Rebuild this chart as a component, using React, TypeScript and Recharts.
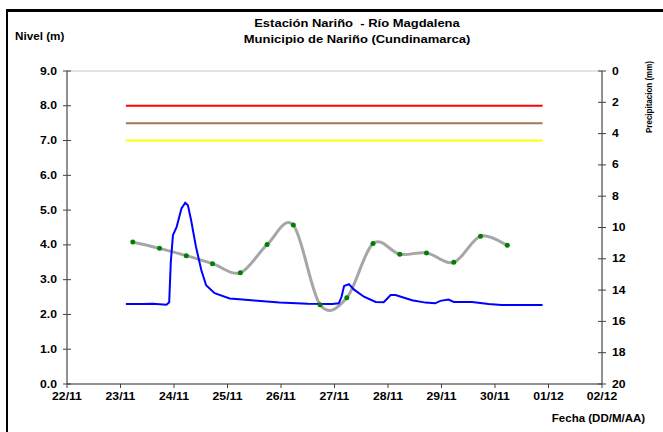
import { ComposedChart, Line, XAxis, YAxis, CartesianGrid } from "recharts";

// days counted from 22/11 (0) to 02/12 (10)
const dayTicks = [0, 1, 2, 3, 4, 5, 6, 7, 8, 9, 10];
const dayLabels = ["22/11", "23/11", "24/11", "25/11", "26/11", "27/11", "28/11", "29/11", "30/11", "01/12", "02/12"];
const levelTicks = [0, 1, 2, 3, 4, 5, 6, 7, 8, 9];
const rainTicks = [0, 2, 4, 6, 8, 10, 12, 14, 16, 18, 20];

// nivel continuo (sensor)
const levelDays = [
  1.1, 1.4, 1.6, 1.86, 1.91, 1.94, 1.98, 2.05, 2.14, 2.21, 2.26, 2.32, 2.41, 2.51, 2.6, 2.76, 3.04, 3.28, 3.5,
  3.97, 4.5, 4.96, 5.08, 5.13, 5.18, 5.27, 5.36, 5.55, 5.77, 5.92, 6.05, 6.14, 6.45, 6.7, 6.88, 6.98, 7.13, 7.23,
  7.57, 7.88, 8.12, 8.89,
];
const levelValues = [
  2.3, 2.3, 2.31, 2.28, 2.35, 3.5, 4.28, 4.52, 5.05, 5.21, 5.14, 4.71, 3.95, 3.28, 2.84, 2.61, 2.46, 2.43, 2.4,
  2.34, 2.31, 2.3, 2.32, 2.5, 2.82, 2.87, 2.72, 2.51, 2.36, 2.35, 2.56, 2.56, 2.41, 2.34, 2.32, 2.39, 2.43, 2.36,
  2.36, 2.3, 2.27, 2.27,
];

// lecturas de mira
const gaugeDays = [1.23, 1.73, 2.23, 2.72, 3.24, 3.74, 4.23, 4.73, 5.23, 5.72, 6.22, 6.72, 7.23, 7.73, 8.23];
const gaugeValues = [4.08, 3.9, 3.69, 3.46, 3.2, 4.01, 4.57, 2.28, 2.48, 4.04, 3.73, 3.77, 3.5, 4.25, 3.99];

// precipitacion: sin registros (0 mm) en el periodo
const rainDays = [1.1, 8.89];
const rainValues = [0, 0];

// umbrales
const thresholdSpan = [1.1, 8.89];
const redLevel = 8.0;
const orangeLevel = 7.5;
const yellowLevel = 7.0;

const levelData = levelDays.map((d, i) => ({ d, v: levelValues[i] }));
const gaugeData = gaugeDays.map((d, i) => ({ d, v: gaugeValues[i] }));
const rainData = rainDays.map((d, i) => ({ d, p: rainValues[i] }));
const band = (v: number) => thresholdSpan.map((d) => ({ d, v }));

// Excel-like smoothed line (catmull-rom through the points)
const smoothCurve = (ctx: any) => {
  let pts: number[][] = [];
  return {
    areaStart() {},
    areaEnd() {},
    lineStart() {
      pts = [];
    },
    point(x: number, y: number) {
      pts.push([+x, +y]);
    },
    lineEnd() {
      if (!pts.length) return;
      ctx.moveTo(pts[0][0], pts[0][1]);
      const t = 1 / 6;
      for (let i = 0; i < pts.length - 1; i++) {
        const p0 = pts[i - 1] || pts[i];
        const p1 = pts[i];
        const p2 = pts[i + 1];
        const p3 = pts[i + 2] || p2;
        ctx.bezierCurveTo(
          p1[0] + (p2[0] - p0[0]) * t,
          p1[1] + (p2[1] - p0[1]) * t,
          p2[0] - (p3[0] - p1[0]) * t,
          p2[1] - (p3[1] - p1[1]) * t,
          p2[0],
          p2[1]
        );
      }
    },
  };
};

const font = "'Liberation Sans', Arial, sans-serif";
const axisColor = "#404040";
const stretch = 1.22; // the original text is drawn a bit wide

const TickText = ({ x, y, label, anchor, dy }: any) => (
  <text
    x={x}
    y={y}
    dy={dy}
    textAnchor={anchor}
    fontSize={10}
    fontWeight={700}
    fontFamily={font}
    fill="#000"
    transform={`translate(${x} 0) scale(${stretch} 1) translate(${-x} 0)`}
  >
    {label}
  </text>
);

// cross-style tick marks drawn with the labels
const DayTick = (p: any) => (
  <g>
    <line x1={p.x} x2={p.x} y1={p.y - 9} y2={p.y - 5} stroke={axisColor} />
    <TickText x={p.x} y={p.y} dy="0.71em" anchor="middle" label={dayLabels[p.payload.value]} />
  </g>
);
const LevelTick = (p: any) => (
  <g>
    <line x1={p.x + 6} x2={p.x + 14} y1={p.y} y2={p.y} stroke={axisColor} />
    <TickText x={p.x} y={p.y} dy="0.355em" anchor="end" label={Number(p.payload.value).toFixed(1)} />
  </g>
);
const RainTick = (p: any) => (
  <g>
    <line x1={p.x - 14} x2={p.x - 6} y1={p.y} y2={p.y} stroke={axisColor} />
    <TickText x={p.x} y={p.y} dy="0.355em" anchor="start" label={p.payload.value} />
  </g>
);

export default function App() {
  return (
    <div
      style={{
        position: "absolute",
        left: 0,
        top: 0,
        width: 663,
        height: 432,
        background: "#fff",
        overflow: "hidden",
        fontFamily: font,
        fontWeight: 700,
      }}
    >
      <div
        style={{
          position: "absolute",
          left: 6,
          top: 9,
          width: 700,
          height: 500,
          borderTop: "3px solid #000",
          borderLeft: "2px solid #000",
        }}
      />
      <div
        style={{
          position: "absolute",
          left: 157,
          top: 15,
          width: 400,
          textAlign: "center",
          fontSize: 11,
          lineHeight: "16px",
          whiteSpace: "pre",
          transform: "scaleX(1.18)",
          transformOrigin: "200px 0",
        }}
      >
        {"Estación Nariño  - Río Magdalena\nMunicipio de Nariño (Cundinamarca)"}
      </div>
      <div
        style={{
          position: "absolute",
          left: 15,
          top: 31,
          fontSize: 10,
          lineHeight: "12px",
          transform: "scaleX(1.17)",
          transformOrigin: "0 0",
        }}
      >
        Nivel (m)
      </div>
      <div
        style={{
          position: "absolute",
          right: 18,
          top: 413,
          fontSize: 10,
          lineHeight: "12px",
          transform: "scaleX(1.15)",
          transformOrigin: "100% 0",
        }}
      >
        Fecha (DD/M/AA)
      </div>
      <div
        style={{
          position: "absolute",
          left: 650,
          top: 97,
          fontSize: 8,
          lineHeight: "10px",
          whiteSpace: "nowrap",
          transform: "translate(-50%, -50%) rotate(-90deg) scaleY(1.2)",
        }}
      >
        Precipitacion (mm)
      </div>
      <div style={{ position: "absolute", left: 0, top: 0 }}>
        <ComposedChart width={663} height={432} margin={{ top: 71, right: 0, bottom: 0, left: 0 }}>
          <CartesianGrid stroke="#c8c8c8" strokeWidth={1} />
          <XAxis
            xAxisId="t"
            type="number"
            dataKey="d"
            domain={[0, 10]}
            ticks={dayTicks}
            interval={0}
            height={48}
            tickSize={4}
            tickMargin={5}
            tickLine={false}
            tick={DayTick}
            stroke={axisColor}
            allowDataOverflow
          />
          <YAxis
            yAxisId="nivel"
            domain={[0, 9]}
            ticks={levelTicks}
            width={67}
            tickSize={4}
            tickMargin={6}
            tickLine={false}
            tick={LevelTick}
            stroke={axisColor}
            interval={0}
          />
          <YAxis
            yAxisId="lluvia"
            orientation="right"
            domain={[0, 20]}
            ticks={rainTicks}
            reversed
            width={61}
            tickSize={4}
            tickMargin={6}
            tickLine={false}
            tick={RainTick}
            stroke={axisColor}
            interval={0}
          />
          <Line
            xAxisId="t"
            yAxisId="lluvia"
            data={rainData}
            dataKey="p"
            stroke="none"
            dot={false}
            activeDot={false}
            isAnimationActive={false}
          />
          <Line
            xAxisId="t"
            yAxisId="nivel"
            data={band(redLevel)}
            dataKey="v"
            stroke="#ff0000"
            strokeWidth={2}
            dot={false}
            isAnimationActive={false}
          />
          <Line
            xAxisId="t"
            yAxisId="nivel"
            data={band(orangeLevel)}
            dataKey="v"
            stroke="#a0785a"
            strokeWidth={2}
            dot={false}
            isAnimationActive={false}
          />
          <Line
            xAxisId="t"
            yAxisId="nivel"
            data={band(yellowLevel)}
            dataKey="v"
            stroke="#ffff00"
            strokeWidth={2}
            dot={false}
            isAnimationActive={false}
          />
          <Line
            xAxisId="t"
            yAxisId="nivel"
            data={gaugeData}
            dataKey="v"
            type={smoothCurve as any}
            stroke="#a6a6a6"
            strokeWidth={3}
            dot={{ r: 2.5, fill: "#008000", stroke: "none" }}
            isAnimationActive={false}
          />
          <Line
            xAxisId="t"
            yAxisId="nivel"
            data={levelData}
            dataKey="v"
            type="linear"
            stroke="#0000ff"
            strokeWidth={2}
            dot={false}
            isAnimationActive={false}
          />
        </ComposedChart>
      </div>
    </div>
  );
}
